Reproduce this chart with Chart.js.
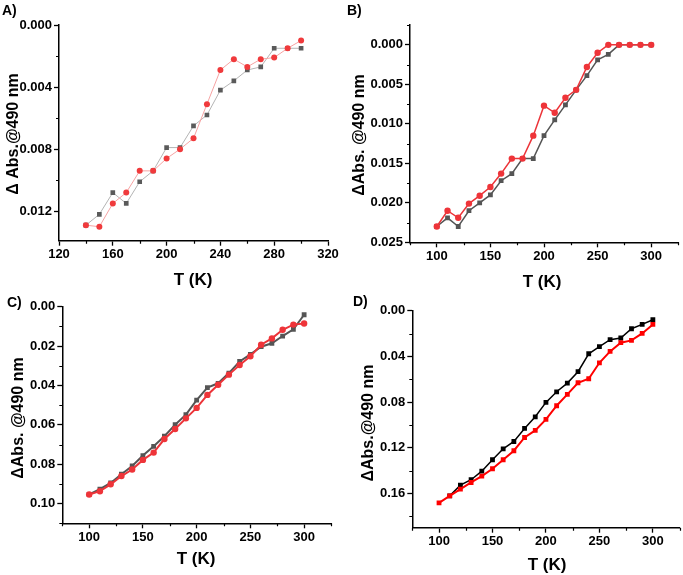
<!DOCTYPE html>
<html>
<head>
<meta charset="utf-8">
<script src="https://cdn.jsdelivr.net/npm/chart.js@4.4.1/dist/chart.umd.min.js"></script>
<style>
    html, body { margin: 0; padding: 0; background: #fff; }
    #page { position: relative; width: 683px; height: 575px; overflow: hidden; background: #fff; }
    #page canvas { position: absolute; left: 0; top: 0; display: block; }
</style>
</head>
<body>
<div id="page">
    <canvas id="chartA" width="683" height="575"></canvas>
    <canvas id="chartB" width="683" height="575"></canvas>
    <canvas id="chartC" width="683" height="575"></canvas>
    <canvas id="chartD" width="683" height="575"></canvas>
</div>
<script>
// ---- panel A ----
const tempA = [140, 150, 160, 170, 180, 190, 200, 210, 220, 230, 240, 250, 260, 270, 280, 290, 300];
const grayA = [0.0129, 0.0122, 0.0108, 0.0115, 0.0101, 0.0094, 0.0079, 0.0079, 0.0065, 0.0058, 0.0042, 0.0036, 0.0029, 0.0027, 0.0015, 0.0015, 0.0015];
const redA = [0.0129, 0.0130, 0.0115, 0.0108, 0.0094, 0.0094, 0.0086, 0.0080, 0.0073, 0.0051, 0.0029, 0.0022, 0.0027, 0.0022, 0.0021, 0.0015, 0.0010];
const xTicksA = [120, 160, 200, 240, 280, 320];
const xMinorA = [140, 180, 220, 260, 300];
const yTicksA = [0, 0.004, 0.008, 0.012];
const yMinorA = [0.002, 0.006, 0.010];

// ---- panel B ----
const tempB = [100, 110, 120, 130, 140, 150, 160, 170, 180, 190, 200, 210, 220, 230, 240, 250, 260, 270, 280, 290, 300];
const grayB = [0.0230, 0.0219, 0.0230, 0.0210, 0.0200, 0.0190, 0.0172, 0.0163, 0.0144, 0.0144, 0.0115, 0.0095, 0.0076, 0.0057, 0.0039, 0.0019, 0.0012, 0, 0, 0, 0];
const redB = [0.0230, 0.0210, 0.0219, 0.0201, 0.0191, 0.0180, 0.0163, 0.0144, 0.0144, 0.0115, 0.0077, 0.0086, 0.0067, 0.0057, 0.0028, 0.0010, 0, 0, 0, 0, 0];
const yTicksB = [0, 0.005, 0.010, 0.015, 0.020, 0.025];
const yMinorB = [-0.0025, 0.0025, 0.0075, 0.0125, 0.0175, 0.0225];

// ---- panel C ----
const tempC = [100, 110, 120, 130, 140, 150, 160, 170, 180, 190, 200, 210, 220, 230, 240, 250, 260, 270, 280, 290, 300];
const grayC = [0.0953, 0.0927, 0.0895, 0.0851, 0.0809, 0.0756, 0.0709, 0.0658, 0.0599, 0.0548, 0.0474, 0.0411, 0.0389, 0.0337, 0.0278, 0.0242, 0.0203, 0.0186, 0.0149, 0.0115, 0.0041];
const redC = [0.0954, 0.0937, 0.0902, 0.0860, 0.0827, 0.0778, 0.0741, 0.0672, 0.0621, 0.0567, 0.0514, 0.0448, 0.0396, 0.0345, 0.0296, 0.0252, 0.0193, 0.0161, 0.0117, 0.0091, 0.0085];
const yTicksC = [0, 0.02, 0.04, 0.06, 0.08, 0.10];
const yMinorC = [0.01, 0.03, 0.05, 0.07, 0.09, 0.11];

// ---- panel D ----
const tempDRed = [100, 110, 120, 130, 140, 150, 160, 170, 180, 190, 200, 210, 220, 230, 240, 250, 260, 270, 280, 290, 300];
const redD = [0.1682, 0.1621, 0.1562, 0.1504, 0.1448, 0.1384, 0.1305, 0.1226, 0.1110, 0.1048, 0.0952, 0.0832, 0.0733, 0.0631, 0.0596, 0.0456, 0.0356, 0.0280, 0.0260, 0.0199, 0.0120];
const tempDBlack = [110, 120, 130, 140, 150, 160, 170, 180, 190, 200, 210, 220, 230, 240, 250, 260, 270, 280, 290, 300];
const blackD = [0.1621, 0.1527, 0.1480, 0.1405, 0.1305, 0.1209, 0.1145, 0.1031, 0.0929, 0.0803, 0.0710, 0.0634, 0.0534, 0.0377, 0.0315, 0.0254, 0.0239, 0.0158, 0.0120, 0.0079];
const yTicksD = [0, 0.04, 0.08, 0.12, 0.16];
const yMinorD = [0.02, 0.06, 0.10, 0.14, 0.18];

// shared x axis for B, C, D
const xTicksT = [100, 150, 200, 250, 300];
const xMinorT = [75, 125, 175, 225, 275, 325];

const FONT = 'Arial, "Liberation Sans", sans-serif';

// minor ticks, panel letter and axis titles
const panelText = {
    id: 'panelText',
    afterDraw(chart, args, opts) {
        const ctx = chart.ctx;
        const area = chart.chartArea;
        const xs = chart.scales.x;
        const ys = chart.scales.y;
        ctx.save();
        ctx.strokeStyle = '#000';
        ctx.lineWidth = 1.2;
        ctx.beginPath();
        opts.minorX.forEach(v => {
            const px = Math.round(xs.getPixelForValue(v)) + 0.5;
            ctx.moveTo(px, area.bottom);
            ctx.lineTo(px, area.bottom + 3);
        });
        opts.minorY.forEach(v => {
            const py = Math.round(ys.getPixelForValue(v)) + 0.5;
            ctx.moveTo(area.left, py);
            ctx.lineTo(area.left - 3, py);
        });
        ctx.stroke();

        ctx.fillStyle = '#000';
        ctx.font = 'bold 14px ' + FONT;
        ctx.textAlign = 'left';
        ctx.textBaseline = 'alphabetic';
        ctx.fillText(opts.label, opts.labelAt[0], opts.labelAt[1]);

        ctx.font = 'bold 17px ' + FONT;
        ctx.textAlign = 'center';
        ctx.textBaseline = 'middle';
        ctx.fillText('T (K)', opts.xTitleAt[0], opts.xTitleAt[1]);

        ctx.translate(opts.yTitleAt[0], opts.yTitleAt[1]);
        ctx.rotate(-Math.PI / 2);
        ctx.font = 'bold 16px ' + FONT;
        ctx.fillText(opts.yTitle, 0, 0);
        ctx.restore();
    }
};

function series(xs, ys, style) {
    return {
        data: xs.map((t, i) => ({ x: t, y: ys[i] })),
        borderColor: style.line,
        borderWidth: style.width,
        pointStyle: style.marker,
        pointRadius: style.radius,
        pointHoverRadius: style.radius,
        pointBackgroundColor: style.fill,
        pointBorderWidth: 0,
        tension: 0,
        fill: false,
        order: style.order
    };
}

// every canvas covers the whole page, so positions below are page pixels
function makePanel(id, p) {
    const canvas = document.getElementById(id);
    const W = canvas.width;
    const H = canvas.height;
    const tickFont = { family: FONT, size: 13, weight: 'bold' };
    new Chart(canvas, {
        type: 'line',
        data: { datasets: p.datasets },
        options: {
            responsive: false,
            animation: false,
            events: [],
            layout: { padding: { left: 0, top: p.area.top, right: W - p.area.right, bottom: 0 } },
            plugins: {
                legend: { display: false },
                tooltip: { enabled: false },
                panelText: p.text
            },
            scales: {
                x: {
                    type: 'linear',
                    min: p.xMin,
                    max: p.xMax,
                    afterBuildTicks: s => { s.ticks = p.xTicks.map(v => ({ value: v })); },
                    afterFit: s => { s.height = H - p.area.bottom; s.paddingLeft = 0; s.paddingRight = 0; },
                    ticks: { color: '#000', font: tickFont, padding: 1, maxRotation: 0, autoSkip: false, callback: v => String(v) },
                    grid: { drawOnChartArea: false, drawTicks: true, tickLength: 5, tickColor: '#000', tickWidth: 1.3 },
                    border: { display: true, color: '#000', width: 1.5 }
                },
                y: {
                    type: 'linear',
                    reverse: true,
                    min: p.yMin,
                    max: p.yMax,
                    afterBuildTicks: s => { s.ticks = p.yTicks.map(v => ({ value: v })); },
                    afterFit: s => { s.width = p.area.left; s.paddingTop = 0; s.paddingBottom = 0; },
                    ticks: { color: '#000', font: tickFont, padding: 2, autoSkip: false, callback: v => Number(v).toFixed(p.decimals) },
                    grid: { drawOnChartArea: false, drawTicks: true, tickLength: 5, tickColor: '#000', tickWidth: 1.3 },
                    border: { display: true, color: '#000', width: 1.5 }
                }
            }
        },
        plugins: [panelText]
    });
}

makePanel('chartA', {
    datasets: [
        series(tempA, redA, { line: '#f6a3a3', width: 1, marker: 'circle', radius: 3, fill: '#f03a3c', order: 0 }),
        series(tempA, grayA, { line: '#b4b4b4', width: 1, marker: 'rect', radius: 3.3, fill: '#5a5a5a', order: 1 })
    ],
    area: { left: 59, top: 25, right: 328, bottom: 240.7 },
    xMin: 120, xMax: 320, xTicks: xTicksA,
    yMin: 0, yMax: 0.0139, yTicks: yTicksA, decimals: 3,
    text: { label: 'A)', labelAt: [2, 15], xTitleAt: [193, 280], yTitleAt: [14, 134], yTitle: 'Δ Abs.@490 nm', minorX: xMinorA, minorY: yMinorA }
});

makePanel('chartB', {
    datasets: [
        series(tempB, redB, { line: '#ec3439', width: 1.5, marker: 'circle', radius: 3.2, fill: '#ee3439', order: 0 }),
        series(tempB, grayB, { line: '#555555', width: 1.5, marker: 'rect', radius: 3.4, fill: '#555555', order: 1 })
    ],
    area: { left: 410, top: 24.3, right: 678, bottom: 242.3 },
    xMin: 75, xMax: 325, xTicks: xTicksT,
    yMin: -0.0026, yMax: 0.025, yTicks: yTicksB, decimals: 3,
    text: { label: 'B)', labelAt: [347, 15], xTitleAt: [542, 282], yTitleAt: [360, 135], yTitle: 'ΔAbs. @490 nm', minorX: xMinorT, minorY: yMinorB }
});

makePanel('chartC', {
    datasets: [
        series(tempC, redC, { line: '#ec3439', width: 2, marker: 'circle', radius: 3.2, fill: '#ee3439', order: 0 }),
        series(tempC, grayC, { line: '#555555', width: 2, marker: 'rect', radius: 3.4, fill: '#555555', order: 1 })
    ],
    area: { left: 62.3, top: 306.7, right: 331, bottom: 523.3 },
    xMin: 75, xMax: 325, xTicks: xTicksT,
    yMin: 0, yMax: 0.11, yTicks: yTicksC, decimals: 2,
    text: { label: 'C)', labelAt: [7, 307], xTitleAt: [196, 559], yTitleAt: [19, 418], yTitle: 'ΔAbs. @490 nm', minorX: xMinorT, minorY: yMinorC }
});

makePanel('chartD', {
    datasets: [
        series(tempDRed, redD, { line: '#ff0000', width: 2, marker: 'rect', radius: 3.4, fill: '#ff0000', order: 0 }),
        series(tempDBlack, blackD, { line: '#000000', width: 1.5, marker: 'rect', radius: 3.4, fill: '#000000', order: 1 })
    ],
    area: { left: 412.3, top: 310.7, right: 680.7, bottom: 527.7 },
    xMin: 75, xMax: 325, xTicks: xTicksT,
    yMin: 0, yMax: 0.19, yTicks: yTicksD, decimals: 2,
    text: { label: 'D)', labelAt: [353, 306], xTitleAt: [547, 565], yTitleAt: [369, 423], yTitle: 'ΔAbs.@490 nm', minorX: xMinorT, minorY: yMinorD }
});
</script>
</body>
</html>
